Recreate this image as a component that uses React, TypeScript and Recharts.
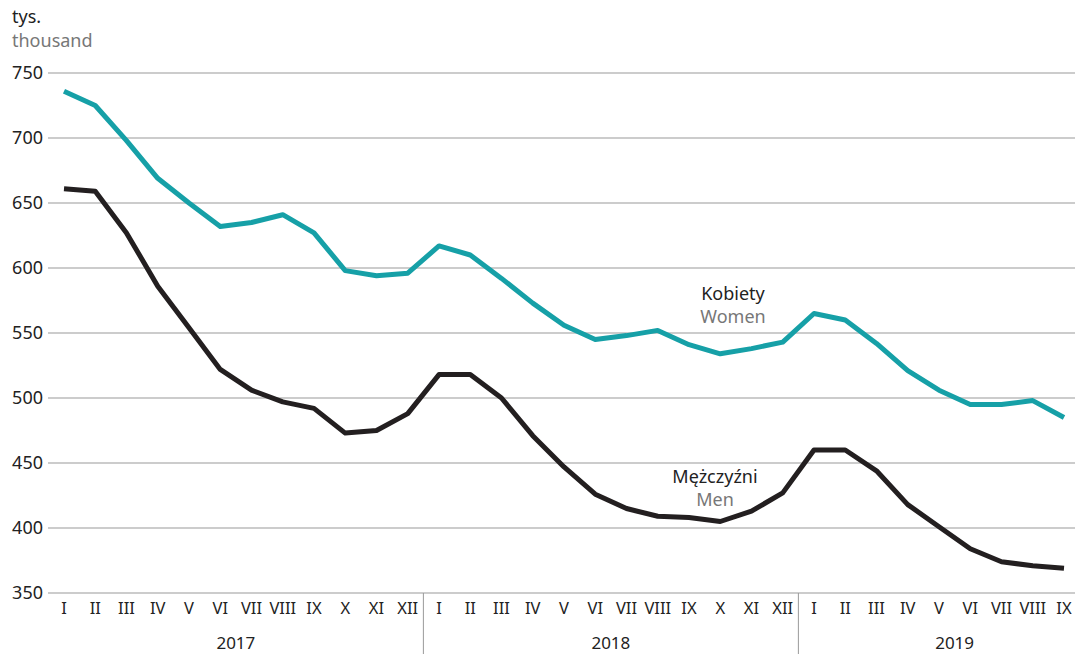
import { LineChart, Line, XAxis, YAxis, CartesianGrid } from 'recharts';

const months = ['I', 'II', 'III', 'IV', 'V', 'VI', 'VII', 'VIII', 'IX', 'X', 'XI', 'XII'];
const years = ['2017', '2018', '2019'];
const monthCounts = [12, 12, 9];

const women = [
  736, 725, 698, 669, 650, 632, 635, 641, 627, 598, 594, 596,
  617, 610, 592, 573, 556, 545, 548, 552, 541, 534, 538, 543,
  565, 560, 542, 521, 506, 495, 495, 498, 485,
];
const men = [
  661, 659, 627, 586, 554, 522, 506, 497, 492, 473, 475, 488,
  518, 518, 500, 471, 447, 426, 415, 409, 408, 405, 413, 427,
  460, 460, 444, 418, 401, 384, 374, 371, 369,
];
const yTicks = [350, 400, 450, 500, 550, 600, 650, 700, 750];

const labels: string[] = [];
const yearOf: number[] = [];
const monthOf: number[] = [];
monthCounts.forEach((n, y) => {
  for (let m = 0; m < n; m++) {
    labels.push(months[m]);
    yearOf.push(y);
    monthOf.push(m);
  }
});
const data = labels.map((m, i) => ({ i, m, women: women[i], men: men[i] }));

const FONT = '"Noto Sans", sans-serif';
const STEP = 31.25;

function XTick(props: any) {
  const { x, payload } = props;
  const i = payload.value as number;
  const label = labels[i];
  if (label === undefined) return null;
  const base = 593;
  const yr = yearOf[i];
  const m = monthOf[i];
  const n = monthCounts[yr];
  // year label sits between the two middle months
  const isMid = m === Math.floor((n - 1) / 2) - (n % 2 === 1 ? 0 : 0);
  return (
    <g>
      <text x={x} y={base + 21} textAnchor="middle" fontSize={16.5} fill="#222" fontFamily={FONT}>{label}</text>
      {m === 0 && i > 0 && <line x1={x - STEP / 2} x2={x - STEP / 2} y1={base} y2={654} stroke="#999" strokeWidth={1} />}
      {isMid && (
        <text x={x + (n % 2 === 0 ? STEP / 2 : STEP / 2)} y={base + 56} textAnchor="middle" fontSize={17} fill="#222" fontFamily={FONT}>{years[yr]}</text>
      )}
    </g>
  );
}

function YTick(props: any) {
  const { y, payload } = props;
  return (
    <text x={43} y={y + 6} textAnchor="end" fontSize={18} fill="#222" fontFamily={FONT}>{payload.value}</text>
  );
}

export default function App() {
  return (
    <div style={{ position: 'absolute', left: 0, top: 0, width: 1075, height: 654, background: '#fff', fontFamily: FONT }}>
      <div style={{ position: 'absolute', left: 12, top: 5, fontSize: 18, lineHeight: '23px', color: '#222' }}>tys.</div>
      <div style={{ position: 'absolute', left: 12, top: 29, fontSize: 18, lineHeight: '23px', color: '#777' }}>thousand</div>
      <div style={{ position: 'absolute', left: 733, top: 282, transform: 'translateX(-50%)', textAlign: 'center', fontSize: 18, lineHeight: '23px' }}>
        <div style={{ color: '#222' }}>Kobiety</div>
        <div style={{ color: '#777' }}>Women</div>
      </div>
      <div style={{ position: 'absolute', left: 715, top: 465, transform: 'translateX(-50%)', textAlign: 'center', fontSize: 18, lineHeight: '23px' }}>
        <div style={{ color: '#222' }}>Mężczyźni</div>
        <div style={{ color: '#777' }}>Men</div>
      </div>
      <LineChart width={1075} height={654} data={data} margin={{ top: 73, right: 0, bottom: 0, left: 0 }} style={{ position: 'absolute', left: 0, top: 0 }}>
        <CartesianGrid vertical={false} stroke="#999" strokeWidth={1} />
        <XAxis
          type="number"
          dataKey="i"
          domain={[-0.512, 32.352]}
          ticks={data.map((d) => d.i)}
          interval={0}
          height={61}
          tickLine={false}
          axisLine={false}
          tick={<XTick />}
          allowDataOverflow
        />
        <YAxis
          domain={[350, 750]}
          ticks={yTicks}
          width={48}
          tickLine={false}
          axisLine={false}
          tick={<YTick />}
          interval={0}
        />
        <Line dataKey="women" stroke="#16a0a7" strokeWidth={5} dot={false} isAnimationActive={false} strokeLinejoin="round" />
        <Line dataKey="men" stroke="#231f20" strokeWidth={5} dot={false} isAnimationActive={false} strokeLinejoin="round" />
      </LineChart>
    </div>
  );
}
